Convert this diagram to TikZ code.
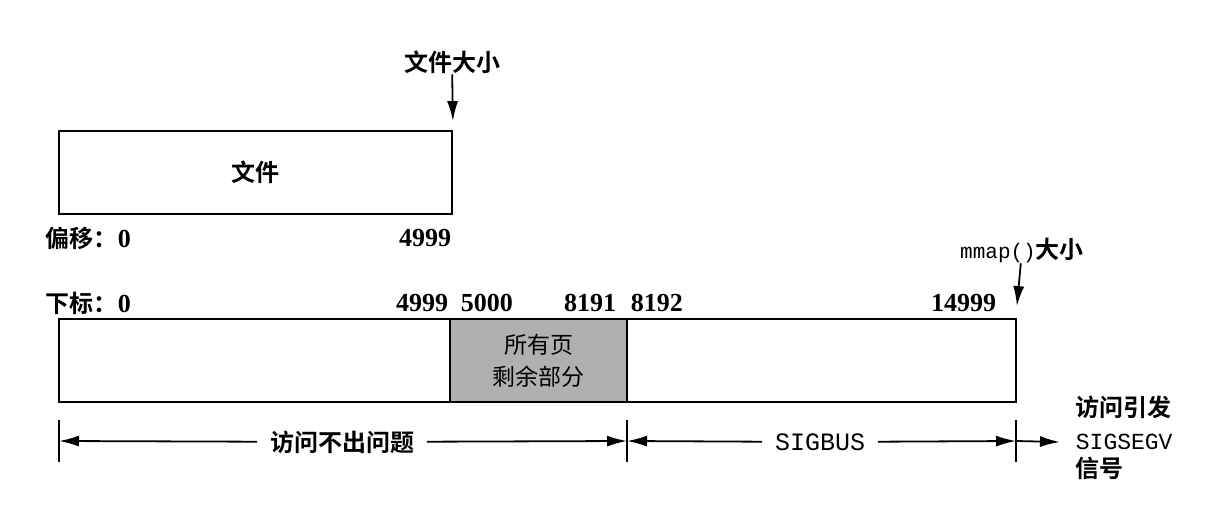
\documentclass[tikz,border=0pt]{standalone}
\usepackage{fontspec}
\usepackage{tikz}
\usetikzlibrary{arrows.meta}
\setmainfont{Liberation Serif}
\setmonofont{Liberation Mono}
\newfontfamily\cjk[BoldFont={Noto Sans CJK SC Bold}]{Noto Sans CJK SC}
\definecolor{pagerest}{HTML}{B0B0B0}

\begin{document}
\begin{tikzpicture}[x=1pt, y=-1pt, line width=1.8pt,
  lbl/.style={inner sep=0pt, font=\fontsize{24pt}{28pt}\selectfont\cjk\bfseries},
  num/.style={inner sep=0pt, font=\fontsize{26pt}{30pt}\selectfont\bfseries},
  sig/.style={inner sep=0pt, font=\fontsize{25pt}{29pt}\selectfont\ttfamily},
  tip/.style={-{Latex[length=20pt,width=11pt]}}]
\useasboundingbox (0,0) rectangle (1228,532);
\node[draw, minimum width=393pt, minimum height=83pt, lbl] (file) at (255.5,172.5) {文件};
\node[lbl] (fsize) at (452,62) {文件大小};
\draw[tip] (fsize) -- ([yshift=9pt]file.north east);
\node[lbl, anchor=west] (off) at (45,238) {偏移：{\rmfamily\fontsize{26pt}{30pt}\selectfont 0}};
\node[num, anchor=east] (offend) at (452,238) {4999};

\node[draw, minimum width=957pt, minimum height=83pt, inner sep=0pt] (map) at (537.5,360.5) {};
\node[draw, fill=pagerest, minimum width=177pt, minimum height=83pt, inner sep=0pt, align=center, font=\fontsize{23pt}{32pt}\selectfont\cjk] (rest) at (538.5,360.5) {所有页\\剩余部分};
\node[lbl] (msize) at (1022,250) {{\fontsize{21pt}{24pt}\selectfont\ttfamily\mdseries mmap()}大小};
\draw[tip] (msize) -- ([yshift=12pt]map.north east);
\node[lbl, anchor=west] (idx) at (45,303) {下标：{\rmfamily\fontsize{26pt}{30pt}\selectfont 0}};
\node[num, anchor=east] (i4999) at (449,303) {4999};
\node[num, anchor=west] (i5000) at (460,303) {5000};
\node[num, anchor=east] (i8191) at (617,303) {8191};
\node[num, anchor=west] (i8192) at (630,303) {8192};
\node[num, anchor=east] (i14999) at (997,303) {14999};

\coordinate (ta) at (59,441);
\coordinate (tb) at (627,441);
\coordinate (tc) at (1016,441);
\foreach \t in {ta,tb,tc}
  \draw ([yshift=21pt]\t) -- ([yshift=-21pt]\t);
\node[lbl, inner xsep=12pt] (ok) at (342,442) {访问不出问题};
\draw[tip] (ok) -- (ta);
\draw[tip] (ok) -- (tb);
\node[sig, inner xsep=12pt] (bus) at (820,442) {SIGBUS};
\draw[tip] (bus) -- (tb);
\draw[tip] (bus) -- (tc);
\node[sig, anchor=west, font=\fontsize{23pt}{27pt}\selectfont\ttfamily] (segv) at (1075,442) {SIGSEGV};
\draw[tip] (tc) -- ([xshift=-15pt]segv.west);
\node[lbl, anchor=west] (trig) at (1075,407) {访问引发};
\node[lbl, anchor=west] (sigword) at (1075,468) {信号};
\end{tikzpicture}
\end{document}
